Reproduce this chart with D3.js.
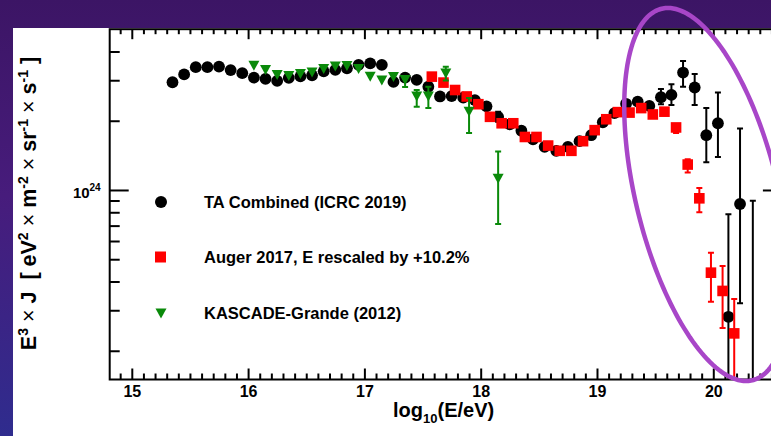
<!DOCTYPE html>
<html><head><meta charset="utf-8">
<script src="https://cdn.jsdelivr.net/npm/d3@7"></script>
<style>
body{margin:0;overflow:hidden;background:#3a1a6a}
text{font-family:"Liberation Sans",Arial,Helvetica,sans-serif;font-weight:bold;fill:#000}
</style>
</head><body><svg id="c" width="771" height="436"></svg>
<script>
// ---------- DATA (flux in units of 1e24 eV^2 m^-2 sr^-1 s^-1) ----------
const taLogE = [15.35,15.45,15.55,15.65,15.75,15.85,15.95,16.05,16.15,16.25,16.35,16.45,16.55,16.65,16.75,16.85,16.95,17.05,17.15,17.25,17.35,17.45,17.55,17.65,17.75,17.85,17.95,18.05,18.15,18.25,18.35,18.45,18.55,18.65,18.75,18.85,18.95,19.05,19.15,19.25,19.35,19.45,19.55,19.64,19.74,19.84,19.94,20.04,20.13,20.23,20.34];
const taFlux = [2.94,3.18,3.42,3.42,3.44,3.32,3.22,3.08,3.04,2.98,3.07,3.12,3.15,3.28,3.33,3.38,3.50,3.55,3.50,2.95,3.08,3.01,2.81,2.55,2.56,2.52,2.46,2.31,2.08,1.93,1.81,1.66,1.54,1.48,1.54,1.63,1.73,1.97,2.16,2.37,2.42,2.32,2.53,2.59,3.24,2.79,1.73,1.95,0.281,0.869,0.12];
const taErrLogE = [18.15,19.55,19.64,19.74,19.84,19.94,20.04,20.13,20.23,20.34];
const taErrLo   = [1.98,2.36,2.34,2.81,2.34,1.32,1.39,0.05,0.322,0.05];
const taErrHi   = [2.19,2.75,2.88,3.64,3.19,2.27,2.65,0.784,1.85,0.898];

const augerLogE = [17.58,17.68,17.78,17.88,17.98,18.08,18.18,18.28,18.38,18.48,18.58,18.68,18.78,18.88,18.98,19.08,19.18,19.28,19.38,19.48,19.58,19.68,19.78,19.88,19.98,20.08,20.18];
const augerFlux = [3.11,2.93,2.72,2.55,2.36,2.08,1.95,1.95,1.70,1.70,1.56,1.48,1.48,1.63,1.82,2.03,2.18,2.17,2.27,2.13,2.19,1.87,1.29,0.92,0.437,0.364,0.238];
const augerErrLogE = [19.68,19.78,19.88,19.98,20.08,20.18];
const augerErrLo   = [1.77,1.19,0.80,0.327,0.251,0.152];
const augerErrHi   = [1.93,1.36,1.02,0.534,0.467,0.336];

const kgLogE = [16.05,16.15,16.25,16.35,16.45,16.55,16.65,16.75,16.85,16.95,17.05,17.15,17.25,17.35,17.45,17.55,17.70,17.90,18.15];
const kgFlux = [3.47,3.32,3.16,3.13,3.19,3.24,3.36,3.44,3.46,3.36,3.11,2.99,3.10,3.01,2.55,2.55,3.21,2.19,1.12];
const kgErrLogE = [17.35,17.45,17.55,17.70,17.90,18.15];
const kgErrLo   = [2.80,2.30,2.27,2.99,1.77,0.711];
const kgErrHi   = [3.12,2.72,2.81,3.43,2.51,1.47];

const xTickValues = [15,16,17,18,19,20];
const yMajorTicks = [1];
const yMinorTicks = [0.2,0.3,0.4,0.5,0.6,0.7,0.8,0.9,2,3,4];
const legendLabels = ["TA Combined (ICRC 2019)","Auger 2017, E rescaled by +10.2%","KASCADE-Grande (2012)"];

// ---------- SETUP ----------
const W = 771, H = 436;
const svg = d3.select('#c');
const defs = svg.append('defs');
const grad = defs.append('linearGradient').attr('id','bg').attr('x1',0).attr('y1',0).attr('x2',0).attr('y2',1);
grad.append('stop').attr('offset','0%').attr('stop-color','#3c1565');
grad.append('stop').attr('offset','45%').attr('stop-color','#471c7c');
grad.append('stop').attr('offset','100%').attr('stop-color','#2f2c8e');
svg.append('rect').attr('width',W).attr('height',H).attr('fill','url(#bg)');
svg.append('rect').attr('x',13).attr('y',28).attr('width',W-13).attr('height',H-28).attr('fill','#fff');

const x = d3.scaleLinear().domain([14.81, 20.59]).range([109.7, 781.9]);
const y = d3.scaleLog().domain([0.15, 5]).range([379.5, 29.2]);
const [x0,x1] = x.range(), [y0,y1] = y.range();

defs.append('clipPath').attr('id','clip').append('rect')
  .attr('x',x0).attr('y',y1).attr('width',x1-x0).attr('height',y0-y1);

// ---------- AXES ----------
const minorX = d3.range(148,206).map(d=>d/10).filter(d=>d%1!==0 && d>=x.domain()[0] && d<=x.domain()[1]);
function styleAxis(g){ g.select('.domain').remove(); g.selectAll('line').attr('stroke','#000').attr('stroke-width',2); g.attr('font-family',null).attr('font-size',null); }

svg.append('g').attr('transform',`translate(0,${y0})`)
  .call(d3.axisBottom(x).tickValues(minorX).tickSize(-6).tickFormat('')).call(styleAxis);
const bx = svg.append('g').attr('transform',`translate(0,${y0})`)
  .call(d3.axisBottom(x).tickValues(xTickValues).tickSize(-11).tickPadding(6).tickFormat(d3.format('d'))).call(styleAxis);
bx.selectAll('text').attr('font-size',16);

svg.append('g').attr('transform',`translate(0,${y1})`)
  .call(d3.axisTop(x).tickValues(minorX).tickSize(-5).tickFormat('')).call(styleAxis);
svg.append('g').attr('transform',`translate(0,${y1})`)
  .call(d3.axisTop(x).tickValues(xTickValues).tickSize(-10).tickFormat('')).call(styleAxis);

svg.append('g').attr('transform',`translate(${x0},0)`)
  .call(d3.axisLeft(y).tickValues(yMinorTicks).tickSize(-10).tickFormat('')).call(styleAxis);
svg.append('g').attr('transform',`translate(${x0},0)`)
  .call(d3.axisLeft(y).tickValues(yMajorTicks).tickSize(-19).tickFormat('')).call(styleAxis);
svg.append('g').attr('transform',`translate(${x1},0)`)
  .call(d3.axisRight(y).tickValues(yMinorTicks).tickSize(-10).tickFormat('')).call(styleAxis);
svg.append('g').attr('transform',`translate(${x1},0)`)
  .call(d3.axisRight(y).tickValues(yMajorTicks).tickSize(-19).tickFormat('')).call(styleAxis);

// y tick label 10^24
yMajorTicks.forEach(v=>{
  const t = svg.append('text').attr('x',x0-9).attr('y',y(v)+8).attr('text-anchor','end').attr('font-size',15);
  t.append('tspan').text('10');
  t.append('tspan').attr('font-size',10).attr('dy',-7).text('24');
});

// frame
svg.append('rect').attr('x',x0).attr('y',y1).attr('width',x1-x0).attr('height',y0-y1)
  .attr('fill','none').attr('stroke','#000').attr('stroke-width',2);

// ---------- DATA MARKS ----------
const plot = svg.append('g').attr('clip-path','url(#clip)');
function errBars(g, xs, lo, hi, color){
  const d = xs.map((e,i)=>({e, lo:lo[i], hi:hi[i]}));
  const gg = g.append('g').attr('stroke',color).attr('stroke-width',2);
  gg.selectAll('line.v').data(d).join('line').attr('class','v')
    .attr('x1',d=>x(d.e)).attr('x2',d=>x(d.e)).attr('y1',d=>y(d.lo)).attr('y2',d=>y(d.hi));
  gg.selectAll('line.ch').data(d).join('line').attr('class','ch')
    .attr('x1',d=>x(d.e)-3).attr('x2',d=>x(d.e)+3).attr('y1',d=>y(d.hi)).attr('y2',d=>y(d.hi));
  gg.selectAll('line.cl').data(d).join('line').attr('class','cl')
    .attr('x1',d=>x(d.e)-3).attr('x2',d=>x(d.e)+3).attr('y1',d=>y(d.lo)).attr('y2',d=>y(d.lo));
}
const triPath = (w,h)=>`M${-w/2},${-h/2}L${w/2},${-h/2}L0,${h/2}Z`;

// TA
errBars(plot, taErrLogE, taErrLo, taErrHi, '#000');
plot.append('g').selectAll('circle').data(taLogE.map((e,i)=>[e,taFlux[i]])).join('circle')
  .attr('cx',d=>x(d[0])).attr('cy',d=>y(d[1])).attr('r',5.9).attr('fill','#000');
// Auger
errBars(plot, augerErrLogE, augerErrLo, augerErrHi, '#ff0000');
plot.append('g').selectAll('rect').data(augerLogE.map((e,i)=>[e,augerFlux[i]])).join('rect')
  .attr('x',d=>x(d[0])-5.3).attr('y',d=>y(d[1])-5.3).attr('width',10.6).attr('height',10.6).attr('fill','#ff0000');
// KASCADE-Grande
errBars(plot, kgErrLogE, kgErrLo, kgErrHi, '#0a8a0a');
plot.append('g').selectAll('path').data(kgLogE.map((e,i)=>[e,kgFlux[i]])).join('path')
  .attr('transform',d=>`translate(${x(d[0])},${y(d[1])})`).attr('d',triPath(11,10)).attr('fill','#0a8a0a');

// ---------- LEGEND ----------
const lg = svg.append('g');
const legY = [202, 257, 313.5];
lg.append('circle').attr('cx',161).attr('cy',legY[0]).attr('r',6).attr('fill','#000');
lg.append('rect').attr('x',155).attr('y',legY[1]-5.5).attr('width',11).attr('height',11).attr('fill','#ff0000');
lg.append('path').attr('transform',`translate(161,${legY[2]})`).attr('d',triPath(11,10)).attr('fill','#0a8a0a');
lg.selectAll('text').data(legendLabels).join('text')
  .attr('x',204).attr('y',(d,i)=>legY[i]+5.5).attr('font-size',16.5).text(d=>d);

// ---------- AXIS TITLES ----------
const xt = svg.append('text').attr('x',393).attr('y',416.5).attr('font-size',20);
xt.append('tspan').text('log');
xt.append('tspan').attr('font-size',13).attr('dy',6).text('10');
xt.append('tspan').attr('dy',-6).text('(E/eV)');

const yt = svg.append('text').attr('transform','translate(36,203.5) rotate(-90)')
  .attr('text-anchor','middle').attr('font-size',21.5);
const parts = [
  ['E',0,null],['3',-8,'sup'],[' \u00d7 ',8,'x'],['J  [ eV',0,null],['2',-8,'sup'],[' \u00d7 ',8,'x'],
  ['m',0,null],['-2',-8,'sup'],[' \u00d7 ',8,'x'],['sr',0,null],['-1',-8,'sup'],[' \u00d7 ',8,'x'],
  ['s',0,null],['-1',-8,'sup'],[' ]',8,null]
];
parts.forEach(([t,dy,k])=>{
  const s = yt.append('tspan').attr('dy',dy).text(t);
  if(k==='sup') s.attr('font-size',14);
  if(k==='x') s.attr('font-weight','normal');
});
yt.style('white-space','pre');

// ---------- ANNOTATION ELLIPSE ----------
const ell = {cx:707, cy:194.5, w:73, shear:39, h:186.5};
const ellPts = d3.range(0,361,2).map(a=>{const t=a*Math.PI/180; return [ell.cx+ell.w*Math.cos(t)+ell.shear*Math.sin(t), ell.cy+ell.h*Math.sin(t)];});
svg.append('path').attr('d',d3.line().curve(d3.curveLinearClosed)(ellPts))
  .attr('fill','none').attr('stroke','#a846c8').attr('stroke-width',4.5);
</script>
</body></html>
